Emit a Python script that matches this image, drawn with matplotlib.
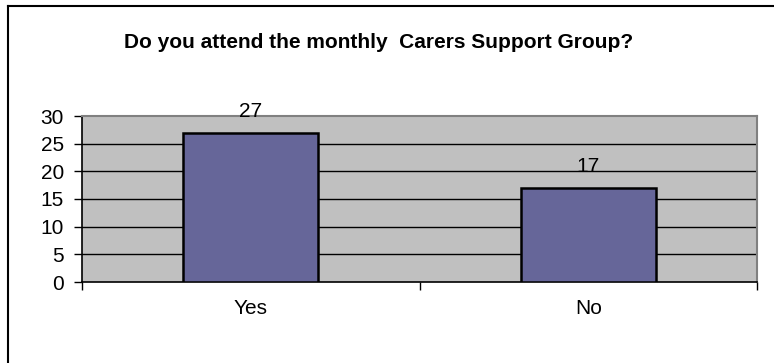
import matplotlib.pyplot as plt
from matplotlib.lines import Line2D

# Survey answers
categories = ["Yes", "No"]
counts = [27, 17]
y_ticks = [0, 5, 10, 15, 20, 25, 30]

plt.rcParams['font.family'] = ['Liberation Sans', 'DejaVu Sans']

fig = plt.figure(figsize=(7.74, 3.63), dpi=100)
fig.patch.set_facecolor('white')

# chart frame (only the top and left edges are in view)
fig.add_artist(Line2D([8 / 774, 8 / 774], [0, 1 - 6 / 363], transform=fig.transFigure,
                      color='black', lw=1.5))
fig.add_artist(Line2D([8 / 774, 1], [1 - 6 / 363, 1 - 6 / 363], transform=fig.transFigure,
                      color='black', lw=1.5))

fig.text(0.489, 1 - 42 / 363, "Do you attend the monthly  Carers Support Group?",
         ha='center', va='center', fontsize=15, fontweight='bold')

ax = fig.add_axes([82 / 774, 81 / 363, (757 - 82) / 774, (282 - 116) / 363])
ax.set_facecolor('#C0C0C0')

x = list(range(len(categories)))
bars = ax.bar(x, counts, width=0.4, color='#666699', edgecolor='black', linewidth=1.8, zorder=3)
for xi, v in zip(x, counts):
    ax.annotate(str(v), (xi, v), xytext=(0, 11.5), textcoords='offset points',
                ha='center', va='baseline', fontsize=15, zorder=5, annotation_clip=False)

ax.set_xlim(-0.5, len(categories) - 0.5)
ax.set_ylim(0, 30)
ax.set_yticks(y_ticks)
ax.set_yticklabels([str(t) for t in y_ticks])
for t in y_ticks[1:-1]:
    ax.axhline(t, color='black', lw=1.0, zorder=1)

ax.set_xticks(x)
ax.set_xticklabels(categories)
ax.set_xticks([-0.5, 0.5, 1.5], minor=True)
ax.tick_params(axis='x', which='major', length=0, pad=12, labelsize=15)
ax.tick_params(axis='x', which='minor', length=6, width=1.0, direction='out')
ax.tick_params(axis='y', length=6, width=1.0, direction='out', pad=7, labelsize=15)

for side in ['left', 'bottom']:
    ax.spines[side].set_color('black')
    ax.spines[side].set_linewidth(1.2)
for side in ['top', 'right']:
    ax.spines[side].set_color('#808080')
    ax.spines[side].set_linewidth(1.5)

plt.savefig('out.png', dpi=100)
